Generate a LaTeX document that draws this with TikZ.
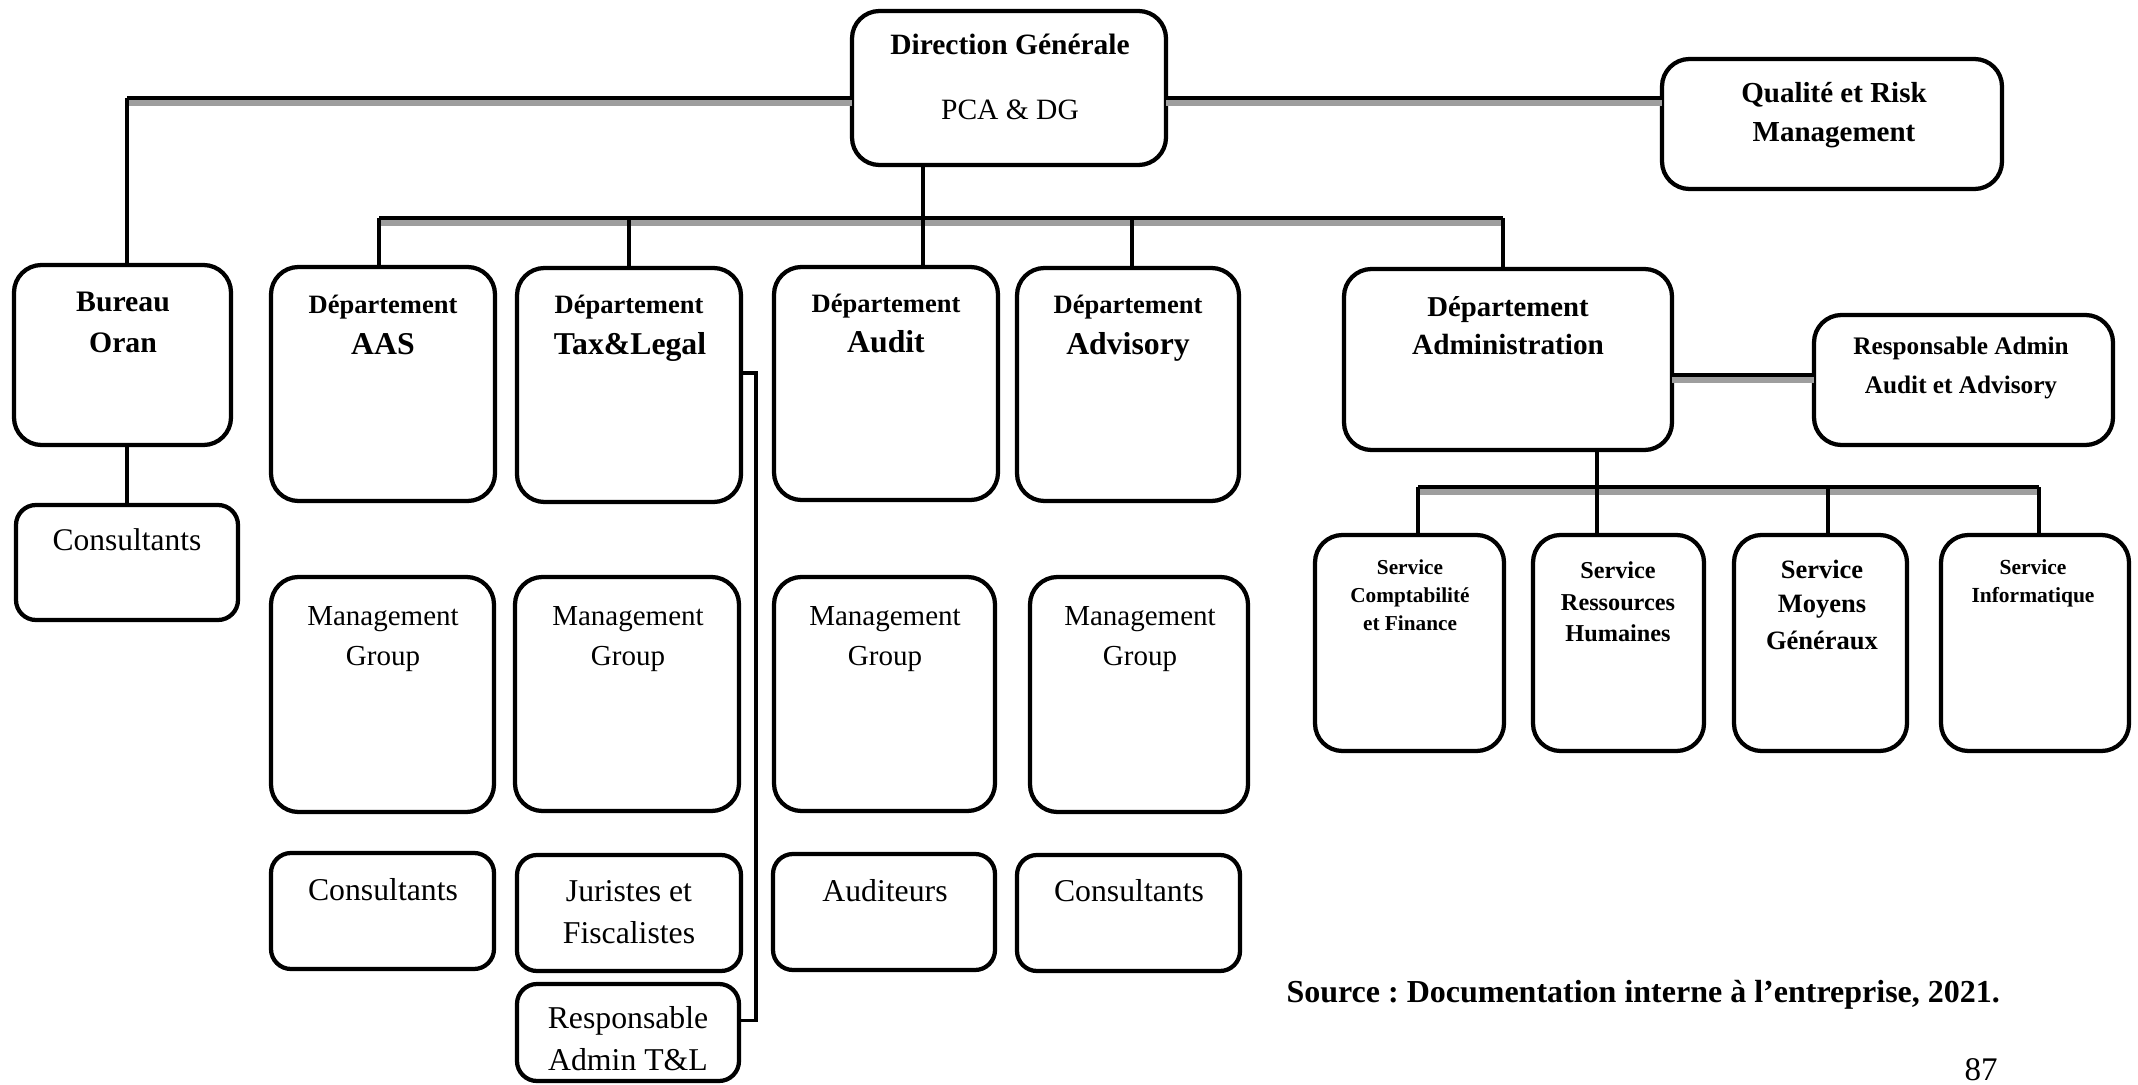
\documentclass[tikz,border=0pt]{standalone}
\usepackage{fontspec}
\setmainfont{Liberation Serif}
\frenchspacing
\newcommand{\fb}[1]{\bfseries\fontsize{#1}{#1}\selectfont}
\newcommand{\fr}[1]{\normalfont\fontsize{#1}{#1}\selectfont}
\newcommand{\mkbox}[6]{\node[#2, minimum width={(#5-#3-4)*0.4pt}, minimum height={(#6-#4-4)*0.4pt}] (#1) at ({(#3+#5)/2},{(#4+#6)/2}) {};}
\newcommand{\mktext}[5]{\node[txt, font=#4] (#1) at (#2,#3) {#5};}
\begin{document}
\begin{tikzpicture}[x=0.4pt,y=-0.4pt,
  box/.style={draw, line width=1.7pt, rounded corners=11pt, inner sep=0pt, outer sep=0pt},
  sbox/.style={box, rounded corners=8pt},
  txt/.style={inner sep=0pt, anchor=base},
  vline/.style={line width=1.4pt},
  hline/.style={line width=1.9pt, preaction={draw=black!38, line width=2.2pt, transform canvas={yshift=-2pt}}},
]
\useasboundingbox (0,0) rectangle (2138,1085);

% boxes
\mkbox{dg}{box}{850}{9}{1168}{167}
\mkbox{qr}{box}{1660}{57}{2004}{191}
\mkbox{bo}{box}{12}{263}{233}{447}
\mkbox{bocons}{sbox}{14}{503}{240}{622}
\mkbox{aas}{box}{269}{265}{497}{503}
\mkbox{tl}{box}{515}{266}{743}{504}
\mkbox{au}{box}{772}{265}{1000}{502}
\mkbox{adv}{box}{1015}{266}{1241}{503}
\mkbox{adm}{box}{1342}{267}{1674}{452}
\mkbox{radm}{box}{1812}{313}{2115}{447}
\mkbox{scf}{box}{1313}{533}{1506}{753}
\mkbox{srh}{box}{1531}{533}{1706}{753}
\mkbox{smg}{box}{1732}{533}{1909}{753}
\mkbox{si}{box}{1939}{533}{2131}{753}
\mkbox{mgaas}{box}{269}{575}{496}{814}
\mkbox{mgtl}{box}{513}{575}{741}{813}
\mkbox{mgau}{box}{772}{575}{997}{813}
\mkbox{mgadv}{box}{1028}{575}{1250}{814}
\mkbox{caas}{sbox}{269}{851}{496}{971}
\mkbox{jur}{sbox}{515}{853}{743}{973}
\mkbox{aud}{sbox}{771}{852}{997}{972}
\mkbox{cadv}{sbox}{1015}{853}{1242}{973}
\mkbox{rtl}{sbox}{515}{982}{741}{1083}

% connectors
\coordinate (dgW) at ([yshift=-4pt]dg.west);
\coordinate (dgE) at ([yshift=-4pt]dg.east);
\coordinate (boN) at ([xshift=1.8pt]bo.north);
\draw[hline] (dgW) -- (dgW -| boN);
\draw[vline] (dgW -| boN) -- (boN);
\draw[hline] (dgE) -- (dgE -| qr.west);

\coordinate (busL) at (379,218);
\coordinate (busR) at (1503,218);
\draw[hline] (busL) -- (busR);
\coordinate (dgv) at ([xshift=-34.4pt]dg.south);
\draw[vline] (dgv) -- (dgv |- au.north);
\draw[vline] (busL) -- (busL |- aas.north);
\draw[vline] (tl.north |- busL) -- (tl.north);
\coordinate (advN) at ([xshift=1.6pt]adv.north);
\draw[vline] (advN |- busL) -- (advN);
\draw[vline] (busR) -- (busR |- adm.north);

\draw[vline] (bo.south -| bocons.north) -- (bocons.north);

\coordinate (tlE) at ([yshift=4.8pt]tl.east);
\coordinate (rtlE) at ([yshift=4.8pt]rtl.east);
\draw[line width=1.5pt] (tlE) -- ++(15,0) |- (rtlE);

\coordinate (admE) at ([yshift=-6.2pt]adm.east);
\draw[hline] (admE) -- (admE -| radm.west);

\coordinate (b2L) at (1418,487);
\coordinate (b2M) at (1828,487);
\coordinate (b2R) at (2039,487);
\draw[hline] (b2L) -- (b2R);
\coordinate (admv) at ([xshift=35.6pt]adm.south);
\draw[vline] (admv) -- (admv |- srh.north);
\draw[vline] (b2L) -- (b2L |- scf.north);
\draw[vline] (b2M) -- (b2M |- smg.north);
\draw[vline] (b2R) -- (b2R |- si.north);

% texts
\mktext{t1}{1010}{55}{\fb{11.8}}{Direction Générale}
\mktext{t2}{1010}{120}{\fr{11.8}}{PCA \& DG}
\mktext{t3}{1834}{103}{\fb{11.6}}{Qualité et Risk}
\mktext{t4}{1834}{142}{\fb{11.6}}{Management}
\mktext{t5}{123}{312}{\fb{11.9}}{Bureau}
\mktext{t6}{123}{352}{\fb{11.9}}{Oran}
\mktext{t7}{127}{550}{\fr{12.6}}{Consultants}
\mktext{t8}{383}{314}{\fb{10.6}}{Département}
\mktext{t9}{383}{354}{\fb{12.7}}{AAS}
\mktext{t10}{629}{314}{\fb{10.6}}{Département}
\mktext{t11}{630}{354}{\fb{12.7}}{Tax\&Legal}
\mktext{t12}{886}{313}{\fb{10.6}}{Département}
\mktext{t13}{886}{353}{\fb{12.7}}{Audit}
\mktext{t14}{1128}{314}{\fb{10.6}}{Département}
\mktext{t15}{1128}{354}{\fb{12.7}}{Advisory}
\mktext{t16}{1508}{317}{\fb{11.5}}{Département}
\mktext{t17}{1508}{354}{\fb{11.7}}{Administration}
\mktext{t18}{1961}{355}{\fb{10.1}}{Responsable Admin}
\mktext{t19}{1961}{393}{\fb{10.1}}{Audit et Advisory}
\mktext{t20}{1410}{574}{\fb{8.5}}{Service}
\mktext{t21}{1410}{602}{\fb{8.5}}{Comptabilité}
\mktext{t22}{1410}{630}{\fb{8.5}}{et Finance}
\mktext{t23}{1618}{578}{\fb{9.7}}{Service}
\mktext{t24}{1618}{610}{\fb{9.7}}{Ressources}
\mktext{t25}{1618}{641}{\fb{9.7}}{Humaines}
\mktext{t26}{1822}{578}{\fb{10.6}}{Service}
\mktext{t27}{1822}{612}{\fb{10.6}}{Moyens}
\mktext{t28}{1822}{649}{\fb{10.6}}{Généraux}
\mktext{t29}{2033}{574}{\fb{8.6}}{Service}
\mktext{t30}{2033}{602}{\fb{8.6}}{Informatique}
\mktext{t31}{383}{625}{\fr{11.6}}{Management}
\mktext{t32}{383}{665}{\fr{11.6}}{Group}
\mktext{t33}{628}{625}{\fr{11.6}}{Management}
\mktext{t34}{628}{665}{\fr{11.6}}{Group}
\mktext{t35}{885}{625}{\fr{11.6}}{Management}
\mktext{t36}{885}{665}{\fr{11.6}}{Group}
\mktext{t37}{1140}{625}{\fr{11.6}}{Management}
\mktext{t38}{1140}{665}{\fr{11.6}}{Group}
\mktext{t39}{383}{900}{\fr{12.7}}{Consultants}
\mktext{t40}{629}{901}{\fr{12.7}}{Juristes et}
\mktext{t41}{629}{943}{\fr{12.7}}{Fiscalistes}
\mktext{t42}{885}{901}{\fr{12.7}}{Auditeurs}
\mktext{t43}{1129}{901}{\fr{12.7}}{Consultants}
\mktext{t44}{628}{1028}{\fr{12.7}}{Responsable}
\mktext{t45}{628}{1070}{\fr{12.7}}{Admin T\&L}
\node[inner sep=0pt, anchor=base west, font=\fb{12.8}] (t46) at (1286,1002) {Source : Documentation interne à l’entreprise, 2021.};
\mktext{t47}{1981}{1080}{\fr{13.2}}{87}
\end{tikzpicture}
\end{document}
